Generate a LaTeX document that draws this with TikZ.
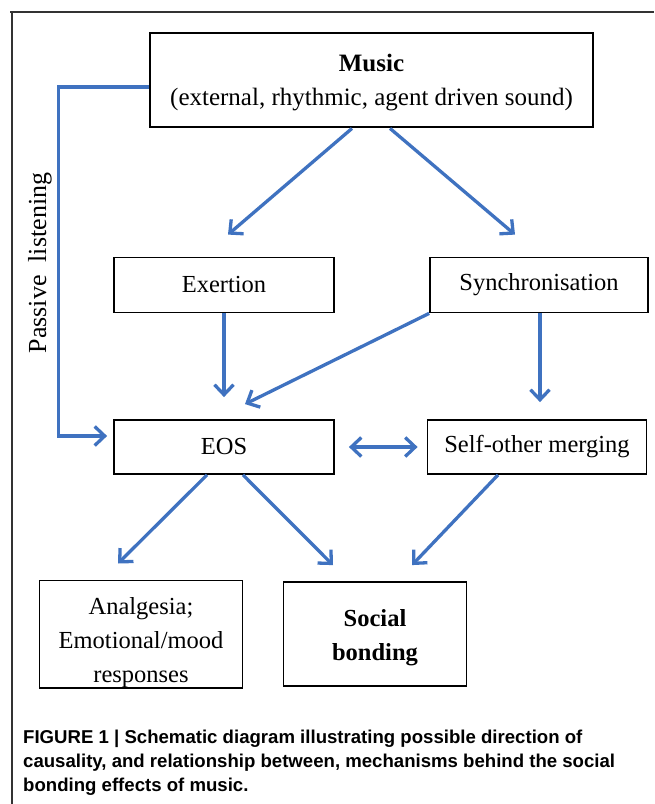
\documentclass[tikz,border=0pt]{standalone}
\usepackage{fontspec}
\setmainfont{Liberation Serif}
\newfontfamily\capfont{Liberation Sans}
\usetikzlibrary{arrows.meta}
\definecolor{flowBlue}{HTML}{3F72C0}
\definecolor{frameGrey}{HTML}{333333}

\begin{document}
\begin{tikzpicture}[x=1pt,y=-1pt,
  every node/.style={font=\fontsize{24.5}{34}\selectfont},
  box/.style={draw,line width=1.8pt,inner sep=0pt,align=center},
  flow/.style={draw=flowBlue,line width=3.3pt,-{Straight Barb[length=10pt,width=19pt]}}]
\useasboundingbox (0,0) rectangle (654,804);
\draw[frameGrey,line width=1.3pt] (10,12) -- (654,12);
\draw[frameGrey,line width=1.3pt] (12,12) -- (12,804);
% boxes
\node[box,line width=2.8pt,minimum width=443pt,minimum height=94pt,font=\fontsize{25}{34}\selectfont] (music) at (371.5,80) {\rule{0pt}{23pt}\textbf{Music}\\(external, rhythmic, agent driven sound)};
\node[box,minimum width=220pt,minimum height=55pt] (exertion) at (224,285) {Exertion};
\node[box,minimum width=218pt,minimum height=55pt] (sync) at (539,285) {Synchronisation};
\node[box,minimum width=220pt,minimum height=54pt] (eos) at (224,447) {EOS};
\node[box,minimum width=219pt,minimum height=54pt] (merge) at (537,447) {Self-other merging};
\node[box,minimum width=203pt,minimum height=104pt] (relief) at (141,634) {\rule{0pt}{34pt}Analgesia;\\Emotional/mood\\responses};
\node[box,minimum width=183pt,minimum height=104pt] (bonding) at (375,634) {\rule{0pt}{25pt}\textbf{Social}\\\textbf{bonding}};
\node[rotate=90,font=\fontsize{26}{30}\selectfont] (passive) at (40,263) {Passive\ \ listening};
% connectors
\draw[flow] ([xshift=-19.5pt]music.south) -- ([xshift=4pt,yshift=22pt]exertion.north);
\draw[flow] ([xshift=18.5pt]music.south) -- ([xshift=-24pt,yshift=22pt]sync.north);
\draw[flow] (exertion.south) -- ([yshift=22pt]eos.north);
\draw[flow] (sync.south west) -- ([xshift=21pt,yshift=15pt]eos.north);
\draw[flow] ([xshift=1pt]sync.south) -- ([xshift=3pt,yshift=17pt]merge.north);
\draw[flow,{Straight Barb[length=10pt,width=19pt]}-{Straight Barb[length=10pt,width=19pt]}] ([xshift=14pt]eos.east) -- ([xshift=-9pt]merge.west);
\draw[flow] ([xshift=-17pt]eos.south) -- ([xshift=-23pt,yshift=16pt]relief.north);
\draw[flow] ([xshift=19pt]eos.south) -- ([xshift=-42pt,yshift=16pt]bonding.north);
\draw[flow] ([xshift=-39pt]merge.south) -- ([xshift=37pt,yshift=16pt]bonding.north);
\draw[flow] ([yshift=-7pt]music.west) -- ++(-90,0) |- ([xshift=-6pt,yshift=11pt]eos.west);
% caption
\node[anchor=north west,inner sep=0pt,align=left,font=\capfont\bfseries\fontsize{18.6}{24}\selectfont] (caption) at (23,730)
  {FIGURE 1 | Schematic diagram illustrating possible direction of\\
   causality, and relationship between, mechanisms behind the social\\
   bonding effects of music.};
\end{tikzpicture}
\end{document}
